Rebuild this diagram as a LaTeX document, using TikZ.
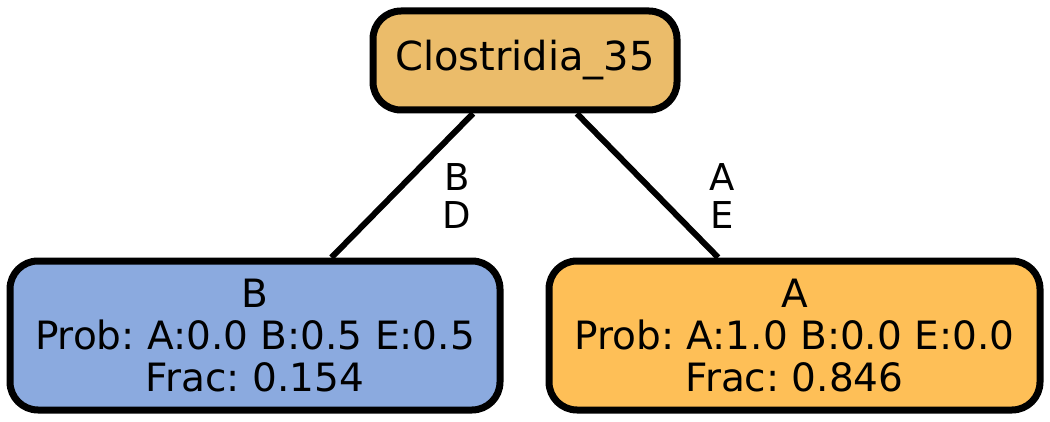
\documentclass[tikz,border=0pt]{standalone}
\usepackage{fontspec}
\setmainfont{DejaVu Sans}
\frenchspacing
\definecolor{topc}{HTML}{EBBC6A}
\definecolor{leftc}{HTML}{8BAADF}
\definecolor{rightc}{HTML}{FEBF57}
\tikzset{
  box/.style={draw=black, line width=7pt, rounded corners=28pt, inner sep=0pt, align=center,
    font=\fontsize{39}{42}\selectfont},
  lbl/.style={inner sep=0pt, align=center, font=\fontsize{37}{38}\selectfont},
  edge/.style={draw=black, line width=6pt}
}
\begin{document}
\begin{tikzpicture}[x=1pt,y=1pt]
\useasboundingbox (0,0) rectangle (1050,421);
\node[box, fill=topc, minimum width=304pt, minimum height=99pt, font=\fontsize{40}{42}\selectfont] (top) at (525,360.5) {Clostridia\_35};
\node[box, fill=leftc, minimum width=490pt, minimum height=149pt] (left) at (255,85.5) {B\\Prob: A:0.0 B:0.5 E:0.5\\Frac: 0.154};
\node[box, fill=rightc, minimum width=491pt, minimum height=149pt] (right) at (794.5,85.5) {A\\Prob: A:1.0 B:0.0 E:0.0\\Frac: 0.846};
\draw[edge] (top) -- (left);
\draw[edge] (top) -- (right);
\node[lbl] (l1) at (457,225) {B\\D};
\node[lbl] (l2) at (722,225) {A\\E};
\end{tikzpicture}
\end{document}
